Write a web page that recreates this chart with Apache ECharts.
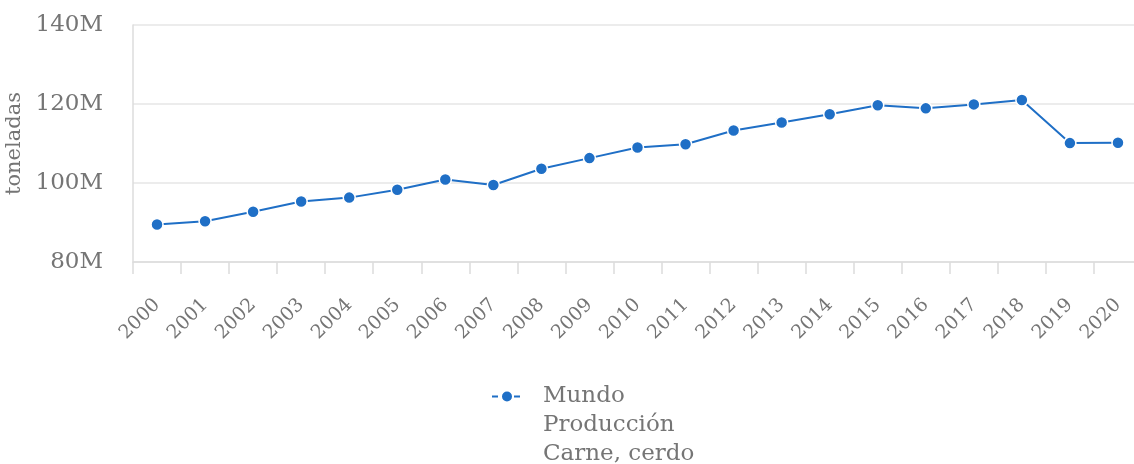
<!DOCTYPE html>
<html>
<head>
<meta charset="utf-8">
<script src="https://cdn.jsdelivr.net/npm/echarts@6/dist/echarts.min.js"></script>
<style>
  html, body { margin: 0; padding: 0; background: #fff; }
  #chart { width: 1134px; height: 464px; }
</style>
</head>
<body>
<div id="chart"></div>
<script>
// World pork meat production, tonnes per year
const years = ['2000','2001','2002','2003','2004','2005','2006','2007','2008','2009',
               '2010','2011','2012','2013','2014','2015','2016','2017','2018','2019','2020'];
const produccion = [89.5, 90.3, 92.7, 95.3, 96.3, 98.3, 100.9, 99.5, 103.6, 106.3,
                    109.0, 109.8, 113.3, 115.3, 117.4, 119.7, 118.9, 119.9, 121.0, 110.1, 110.2]
                    .map(v => v * 1e6);
const seriesName = 'Mundo\nProducción\nCarne, cerdo';
const yTicks = { min: 80e6, max: 140e6, interval: 20e6 };

const FONT = 'DejaVu Serif';
const TEXT = '#757575';
const LINE = '#1f6fc6';

// Legend glyph "-●-" sitting on the first text line of a 3-line label.
// The two bare moveTo points fix the icon box (46 x 87) so nothing is stretched.
const legendIcon = 'path://M0 0 M46 87 ' +
  'M0 13.5 L6 13.5 L6 15.5 L0 15.5 Z ' +
  'M22 13.5 L28 13.5 L28 15.5 L22 15.5 Z ' +
  'M10 14.5 A5 5 0 1 0 20 14.5 A5 5 0 1 0 10 14.5 Z';

const chart = echarts.init(document.getElementById('chart'));
chart.setOption({
  animation: false,
  grid: { left: 133, width: 1009, top: 25, bottom: 202, containLabel: false, outerBoundsMode: 'none' },
  xAxis: {
    type: 'category',
    data: years,
    boundaryGap: true,
    axisLine: { show: true, lineStyle: { color: '#dcdcdc', width: 1.5 } },
    axisTick: { show: true, length: 12, lineStyle: { color: '#dcdcdc', width: 1.5 } },
    axisLabel: { rotate: 45, margin: 40, fontFamily: FONT, fontSize: 19, color: TEXT, interval: 0 }
  },
  yAxis: {
    type: 'value',
    min: yTicks.min, max: yTicks.max, interval: yTicks.interval,
    name: 'toneladas',
    nameLocation: 'middle',
    nameGap: 104,
    nameTextStyle: { fontFamily: FONT, fontSize: 21, color: TEXT },
    axisLine: { show: true, lineStyle: { color: '#dcdcdc', width: 1.5 } },
    axisTick: { show: false },
    splitLine: { show: true, lineStyle: { color: '#e6e6e6', width: 1.5 } },
    axisLabel: {
      margin: 30, fontFamily: FONT, fontSize: 23, color: TEXT,
      formatter: v => (v / 1e6) + 'M'
    }
  },
  legend: {
    data: [seriesName],
    left: 487,
    top: 377,
    icon: legendIcon,
    itemWidth: 46,
    itemHeight: 87,
    itemStyle: { color: LINE, borderWidth: 0 },
    textStyle: { fontFamily: FONT, fontSize: 23, color: TEXT, lineHeight: 29 }
  },
  series: [{
    name: seriesName,
    type: 'line',
    data: produccion,
    symbol: 'circle',
    symbolSize: 12,
    lineStyle: { color: LINE, width: 2 },
    itemStyle: { color: LINE, borderColor: '#fff', borderWidth: 1.5 }
  }]
});
</script>
</body>
</html>
